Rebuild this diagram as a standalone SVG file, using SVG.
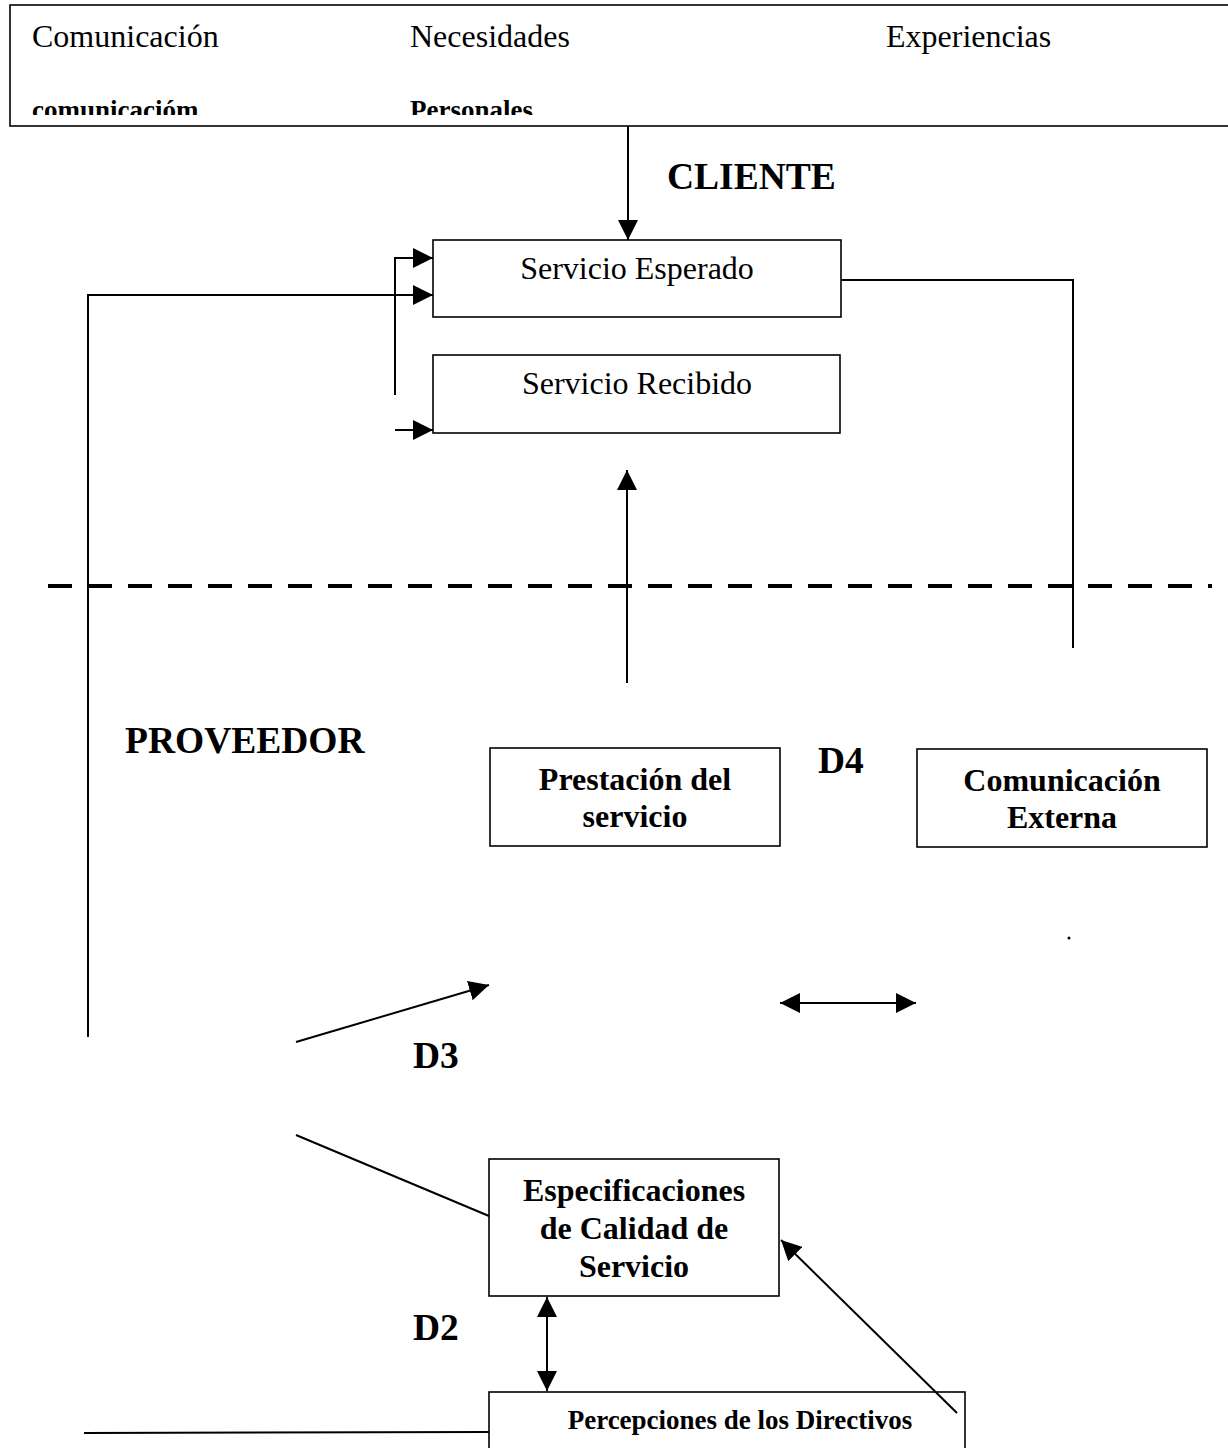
<svg xmlns="http://www.w3.org/2000/svg" width="1228" height="1448" viewBox="0 0 1228 1448">
<style>
.box{fill:#fff;stroke:#000;stroke-width:1.6}
.ln{fill:none;stroke:#000;stroke-width:2}
.t{font-family:"Liberation Serif",serif;fill:#000}
.r28{font-size:32px}
.b28{font-size:32px;font-weight:bold}
.b34{font-size:37.5px;font-weight:bold}
.b22{font-size:27px;font-weight:bold}
</style>
<defs>
<marker id="ah" viewBox="0 0 10 10" refX="10" refY="5" markerWidth="20" markerHeight="20" markerUnits="userSpaceOnUse" orient="auto-start-reverse">
<path d="M0,0 L10,5 L0,10 Z" fill="#000"/>
</marker>
<clipPath id="topclip"><rect x="0" y="0" width="1228" height="115"/></clipPath>
</defs>
<rect width="1228" height="1448" fill="#fff"/>

<g id="top-box">
<rect class="box" x="10" y="5" width="1240" height="121"/>
<text class="t r28" x="32" y="47">Comunicación</text>
<text class="t r28" x="410" y="47">Necesidades</text>
<text class="t r28" x="886" y="47">Experiencias</text>
<g clip-path="url(#topclip)">
<text class="t b22" x="32" y="119">comunicacióm</text>
<text class="t b22" x="410" y="119">Personales</text>
</g>
</g>

<g id="label-cliente"><text class="t b34" x="667" y="189">CLIENTE</text></g>
<g id="label-proveedor"><text class="t b34" x="125" y="753">PROVEEDOR</text></g>
<g id="label-d4"><text class="t b34" x="818" y="773">D4</text></g>
<g id="label-d3"><text class="t b34" x="413" y="1068">D3</text></g>
<g id="label-d2"><text class="t b34" x="413" y="1340">D2</text></g>

<g id="servicio-esperado">
<rect class="box" x="433" y="240" width="408" height="77"/>
<text class="t r28" x="637" y="279" text-anchor="middle">Servicio Esperado</text>
</g>
<g id="servicio-recibido">
<rect class="box" x="433" y="355" width="407" height="78"/>
<text class="t r28" x="637" y="394" text-anchor="middle">Servicio Recibido</text>
</g>
<g id="prestacion">
<rect class="box" x="490" y="748" width="290" height="98"/>
<text class="t b28" x="635" y="790" text-anchor="middle">Prestación del</text>
<text class="t b28" x="635" y="827" text-anchor="middle">servicio</text>
</g>
<g id="comunicacion-externa">
<rect class="box" x="917" y="749" width="290" height="98"/>
<text class="t b28" x="1062" y="791" text-anchor="middle">Comunicación</text>
<text class="t b28" x="1062" y="828" text-anchor="middle">Externa</text>
</g>
<g id="especificaciones">
<rect class="box" x="489" y="1159" width="290" height="137"/>
<text class="t b28" x="634" y="1201" text-anchor="middle">Especificaciones</text>
<text class="t b28" x="634" y="1239" text-anchor="middle">de Calidad de</text>
<text class="t b28" x="634" y="1277" text-anchor="middle">Servicio</text>
</g>
<g id="percepciones">
<rect class="box" x="489" y="1392" width="476" height="70"/>
<text class="t b22" x="740" y="1429" text-anchor="middle">Percepciones de los Directivos</text>
</g>

<g id="connectors">
<line class="ln" x1="628" y1="126" x2="628" y2="240" marker-end="url(#ah)"/>
<polyline class="ln" points="395,395 395,258 433,258" marker-end="url(#ah)"/>
<polyline class="ln" points="88,1037 88,295 433,295" marker-end="url(#ah)"/>
<line class="ln" x1="395" y1="430" x2="433" y2="430" marker-end="url(#ah)"/>
<polyline class="ln" points="841,280 1073,280 1073,648"/>
<line class="ln" x1="627" y1="683" x2="627" y2="470" marker-end="url(#ah)"/>
<line x1="48" y1="586" x2="1212" y2="586" stroke="#000" stroke-width="4" stroke-dasharray="24 16"/>
<line class="ln" x1="296" y1="1042" x2="489" y2="985" marker-end="url(#ah)"/>
<line class="ln" x1="780" y1="1003" x2="916" y2="1003" marker-start="url(#ah)" marker-end="url(#ah)"/>
<line class="ln" x1="296" y1="1135" x2="489" y2="1216"/>
<line class="ln" x1="957" y1="1413" x2="781" y2="1240" marker-end="url(#ah)"/>
<line class="ln" x1="547" y1="1297" x2="547" y2="1391" marker-start="url(#ah)" marker-end="url(#ah)"/>
<line class="ln" x1="84" y1="1433" x2="489" y2="1432"/>
<circle cx="1069" cy="938" r="1.5" fill="#000"/>
</g>
</svg>
